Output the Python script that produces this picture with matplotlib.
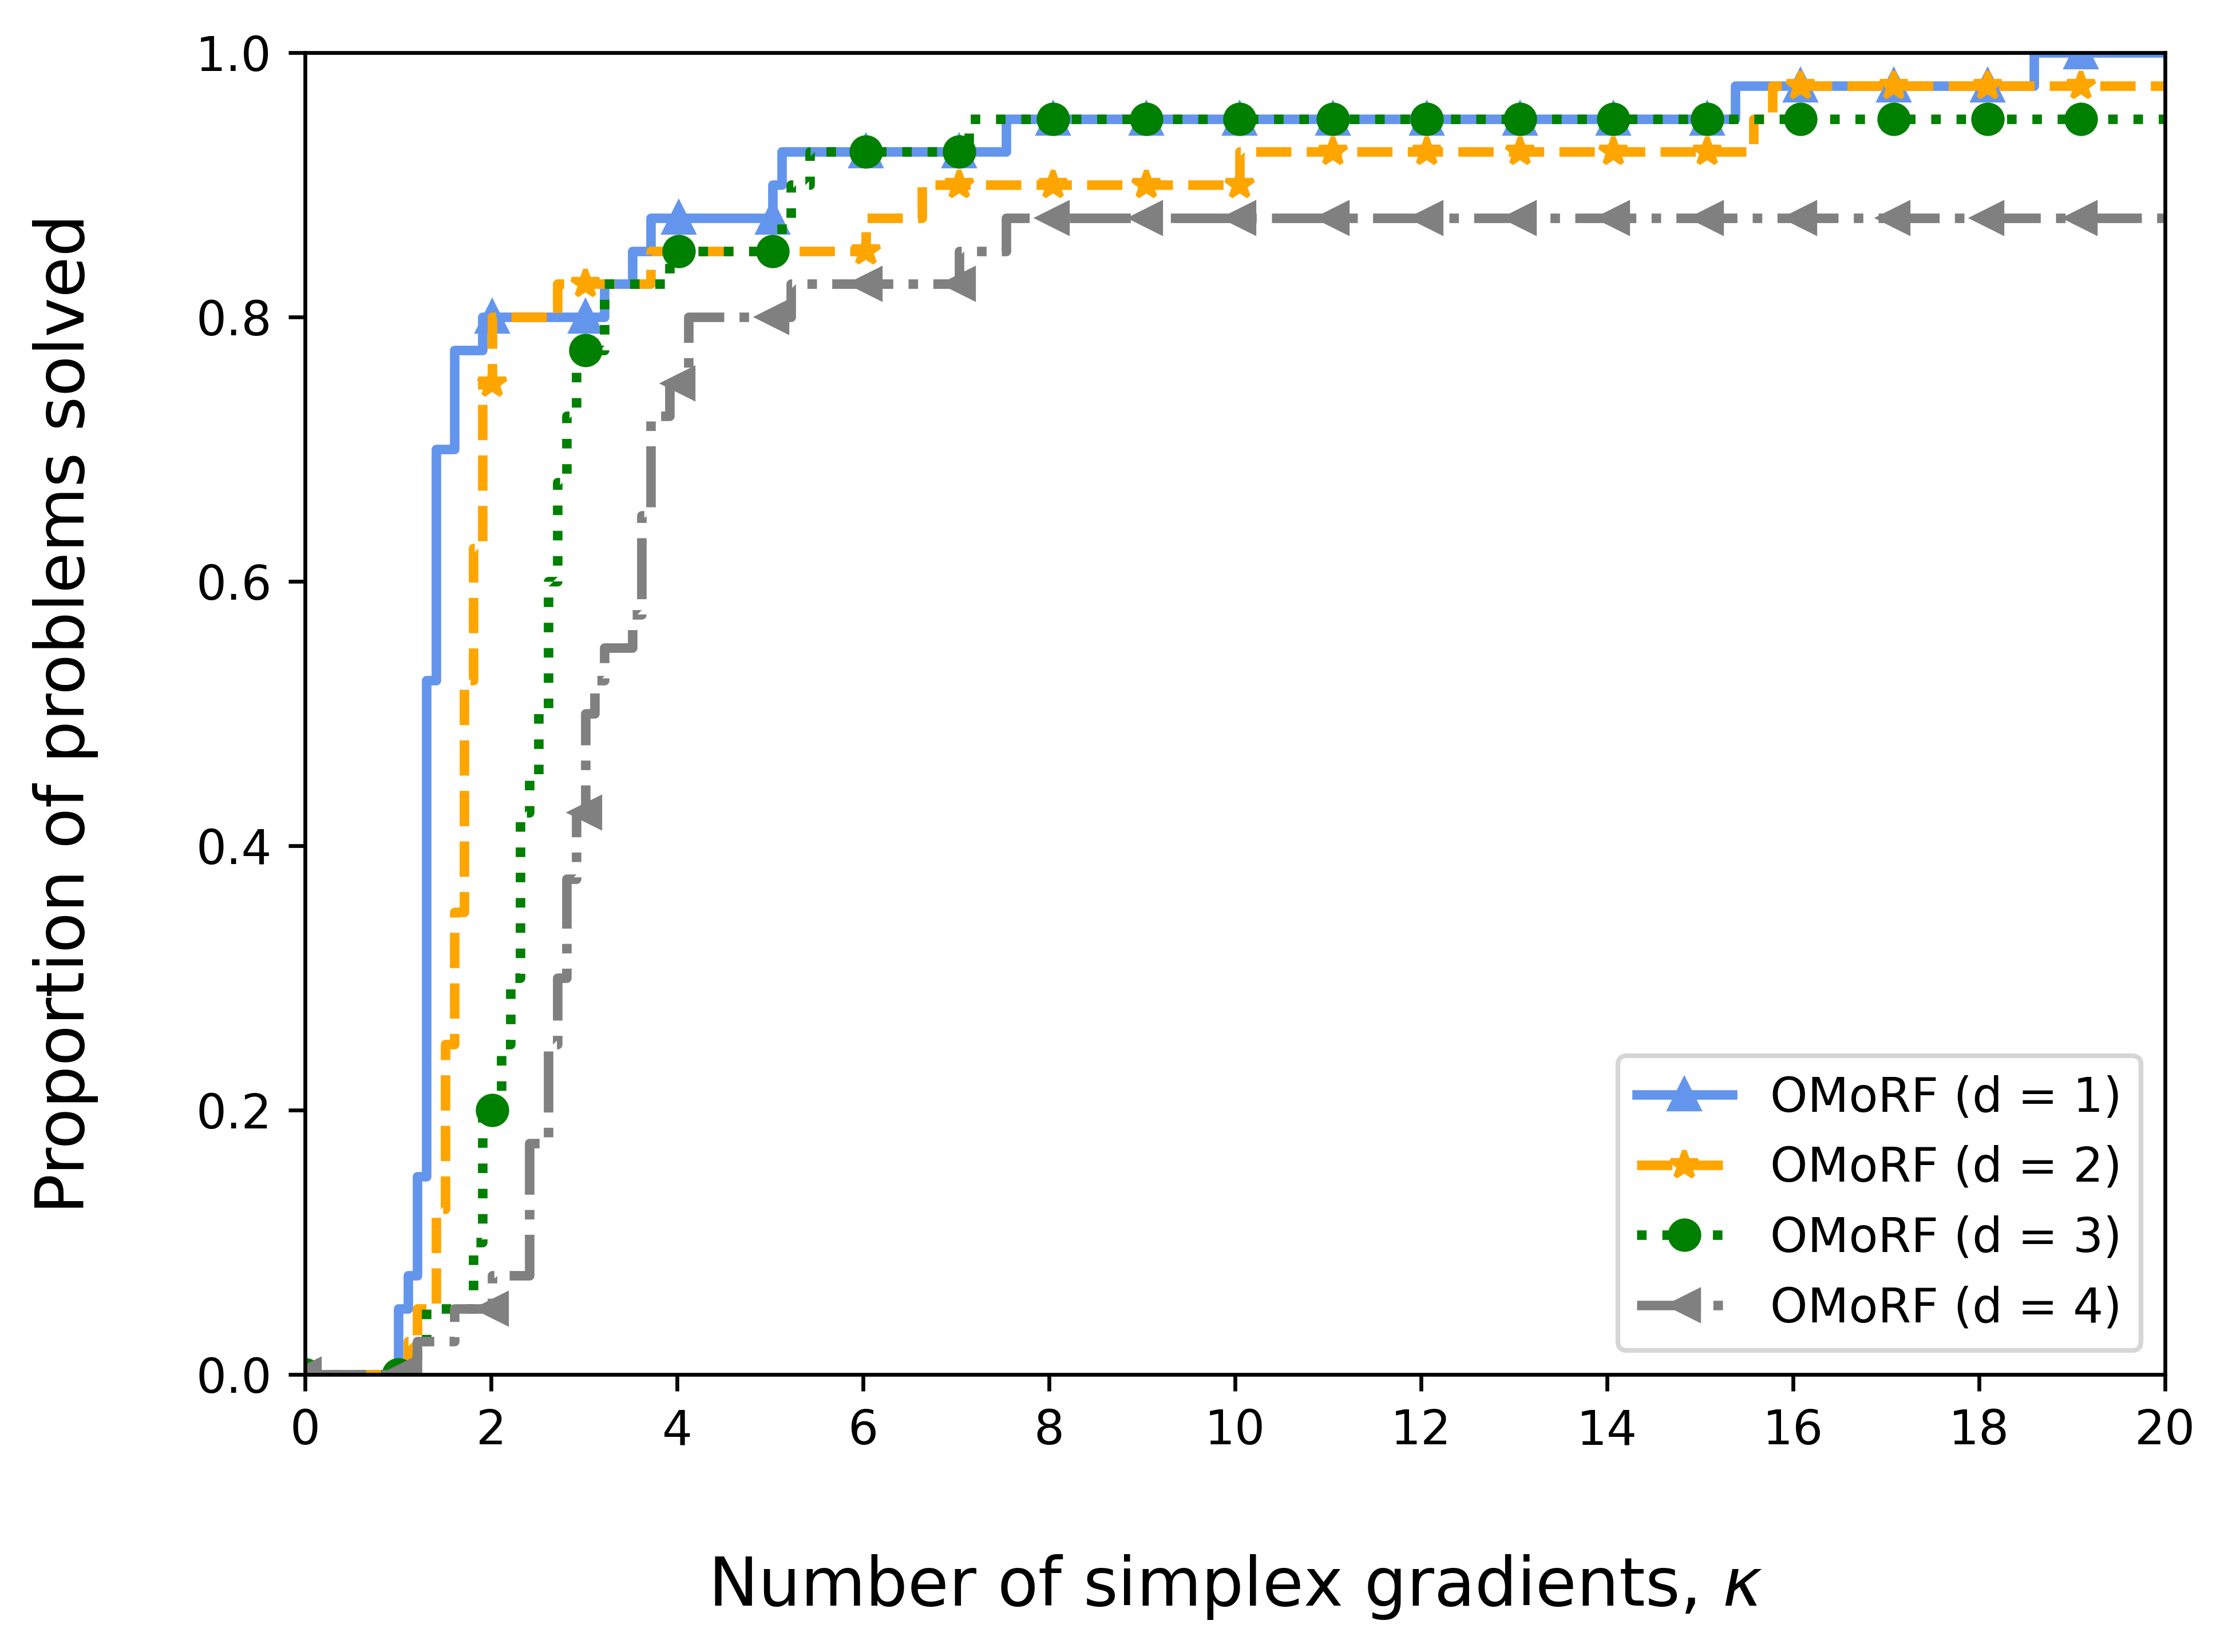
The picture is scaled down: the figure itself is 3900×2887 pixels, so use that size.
import numpy as np
import matplotlib
matplotlib.use("Agg")
import matplotlib.pyplot as plt

# ---- data ----
labels = ["OMoRF (d = 1)", "OMoRF (d = 2)", "OMoRF (d = 3)", "OMoRF (d = 4)"]

# step positions (kappa at which the curve rises) and the level reached
d1_breaks = [1.05, 1.15, 1.25, 1.35, 1.45, 1.65, 1.95, 3.25, 3.55, 3.75,
             5.05, 5.15, 7.55, 15.4, 18.62]
d1_levels = [0.05, 0.075, 0.15, 0.525, 0.70, 0.775, 0.80, 0.825, 0.85, 0.875,
             0.90, 0.925, 0.95, 0.975, 1.0]

d2_breaks = [1.15, 1.25, 1.45, 1.55, 1.65, 1.75, 1.85, 1.95, 2.05, 2.75,
             3.75, 6.05, 6.65, 10.1, 15.6, 15.8]
d2_levels = [0.025, 0.05, 0.125, 0.25, 0.35, 0.525, 0.625, 0.75, 0.80, 0.825,
             0.85, 0.875, 0.90, 0.925, 0.95, 0.975]

d3_breaks = [1.25, 1.35, 1.85, 1.95, 2.15, 2.25, 2.35, 2.45, 2.55, 2.65,
             2.75, 2.85, 2.95, 3.25, 3.95, 5.15, 5.25, 5.45, 7.15]
d3_levels = [0.025, 0.05, 0.10, 0.20, 0.25, 0.30, 0.425, 0.45, 0.50, 0.60,
             0.675, 0.725, 0.775, 0.825, 0.85, 0.875, 0.90, 0.925, 0.95]

d4_breaks = [1.25, 1.65, 2.05, 2.45, 2.65, 2.75, 2.85, 2.95, 3.05, 3.15,
             3.25, 3.55, 3.65, 3.75, 3.95, 4.15, 5.25, 7.05, 7.55]
d4_levels = [0.025, 0.05, 0.075, 0.175, 0.25, 0.30, 0.375, 0.425, 0.50, 0.525,
             0.55, 0.575, 0.65, 0.725, 0.75, 0.80, 0.825, 0.85, 0.875]

x_ticks = [0, 2, 4, 6, 8, 10, 12, 14, 16, 18, 20]
y_ticks = [0.0, 0.2, 0.4, 0.6, 0.8, 1.0]

# ---- evaluation grid ----
kappa = np.linspace(0, 20, 200)


def profile(breaks, levels):
    idx = np.searchsorted(np.asarray(breaks), kappa, side="left")
    return np.concatenate([[0.0], levels])[idx]


series = [
    (d1_breaks, d1_levels, dict(color="cornflowerblue", linestyle="-", marker="^")),
    (d2_breaks, d2_levels, dict(color="orange", linestyle="--", marker="*")),
    (d3_breaks, d3_levels, dict(color="green", linestyle=":", marker="o")),
    (d4_breaks, d4_levels, dict(color="grey", linestyle="-.", marker="<")),
]

plt.rcParams["font.size"] = 10
fig = plt.figure(figsize=(6.5, 2887 / 600), dpi=600)
ax = fig.add_axes([0.13667, 0.16799, 0.83333, 0.80014])

for (br, lv, style), lab in zip(series, labels):
    ax.plot(kappa, profile(br, lv), drawstyle="steps-pre", linewidth=2,
            markevery=10, markersize=6, label=lab, **style)

ax.set_xlim(0, 20)
ax.set_ylim(0, 1)
ax.set_xticks(x_ticks)
ax.set_yticks(y_ticks)
ax.set_xlabel(r"Number of simplex gradients, $\kappa$", fontsize=14)
ax.set_ylabel("Proportion of problems solved", fontsize=14)
ax.xaxis.set_label_coords(0.5, -0.135)
ax.yaxis.set_label_coords(-0.111, 0.5)
ax.legend(loc="lower right")

fig.savefig("out.png", dpi=600)
